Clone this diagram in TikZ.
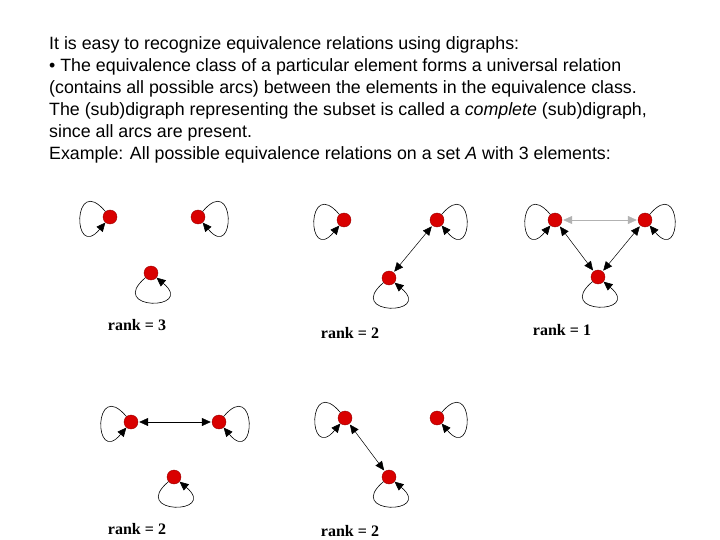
\documentclass[tikz,border=0pt]{standalone}
\usepackage{fontspec}
\setmainfont{Liberation Sans}
\usetikzlibrary{arrows.meta}
\begin{document}
\begin{tikzpicture}[x=1pt,y=-1pt,
  v/.style={circle,fill=red!85!black,draw=red!60!black,inner sep=0pt,minimum size=14pt},
  lp/.style={-{Triangle[length=9pt,width=8pt]},line width=0.6pt,looseness=12,min distance=30pt},
  ed/.style={{Triangle[length=9pt,width=8pt]}-{Triangle[length=9pt,width=8pt]},line width=0.5pt,shorten <=1pt,shorten >=1pt},
  rk/.style={font=\fontspec{Liberation Serif}\bfseries\fontsize{16}{16}\selectfont}]
\useasboundingbox (0,0) rectangle (720,540);
\node[anchor=north west,align=left,inner sep=0pt,font=\fontsize{17.8}{22}\selectfont] (txt) at (49,36)
{It is easy to recognize equivalence relations using digraphs:\\
• The equivalence class of a particular element forms a universal relation\\
(contains all possible arcs) between the elements in the equivalence class.\\
The (sub)digraph representing the subset is called a \textit{complete} (sub)digraph,\\
since all arcs are present.\\
Example: All possible equivalence relations on a set \textit{A} with 3 elements:};
% graph 1
\node[v] (a1) at (110,217) {}; \node[v] (b1) at (198,217) {}; \node[v] (c1) at (151,273) {};
\draw[lp] (a1) to[out=130,in=230] (a1);
\draw[lp] (b1) to[out=50,in=-50] (b1);
\draw[lp] (c1) to[out=-140,in=-40] (c1);
\node[rk] (r1) at (137,325) {rank = 3};
% graph 2
\node[v] (a2) at (344,220) {}; \node[v] (b2) at (437,220) {}; \node[v] (c2) at (389,278) {};
\draw[lp] (a2) to[out=130,in=230] (a2);
\draw[lp] (b2) to[out=50,in=-50] (b2);
\draw[lp] (c2) to[out=-140,in=-40] (c2);
\draw[ed] (b2) -- (c2);
\node[rk] (r2) at (350,333) {rank = 2};
% graph 3
\node[v] (a3) at (555,220) {}; \node[v] (b3) at (645,220) {}; \node[v] (c3) at (598,277) {};
\draw[lp] (a3) to[out=130,in=230] (a3);
\draw[lp] (b3) to[out=50,in=-50] (b3);
\draw[lp] (c3) to[out=-140,in=-40] (c3);
\draw[ed,draw=gray!60] (a3) -- (b3); \draw[ed] (a3) -- (c3); \draw[ed] (b3) -- (c3);
\node[rk] (r3) at (562,330) {rank = 1};
% graph 4
\node[v] (a4) at (131,422) {}; \node[v] (b4) at (219,422) {}; \node[v] (c4) at (174,477) {};
\draw[lp] (a4) to[out=130,in=230] (a4);
\draw[lp] (b4) to[out=50,in=-50] (b4);
\draw[lp] (c4) to[out=-140,in=-40] (c4);
\draw[ed] (a4) -- (b4);
\node[rk] (r4) at (137,529) {rank = 2};
% graph 5
\node[v] (a5) at (345,418) {}; \node[v] (b5) at (437,418) {}; \node[v] (c5) at (389,477) {};
\draw[lp] (a5) to[out=130,in=230] (a5);
\draw[lp] (b5) to[out=50,in=-50] (b5);
\draw[lp] (c5) to[out=-140,in=-40] (c5);
\draw[ed] (a5) -- (c5);
\node[rk] (r5) at (350,531) {rank = 2};
\end{tikzpicture}
\end{document}
